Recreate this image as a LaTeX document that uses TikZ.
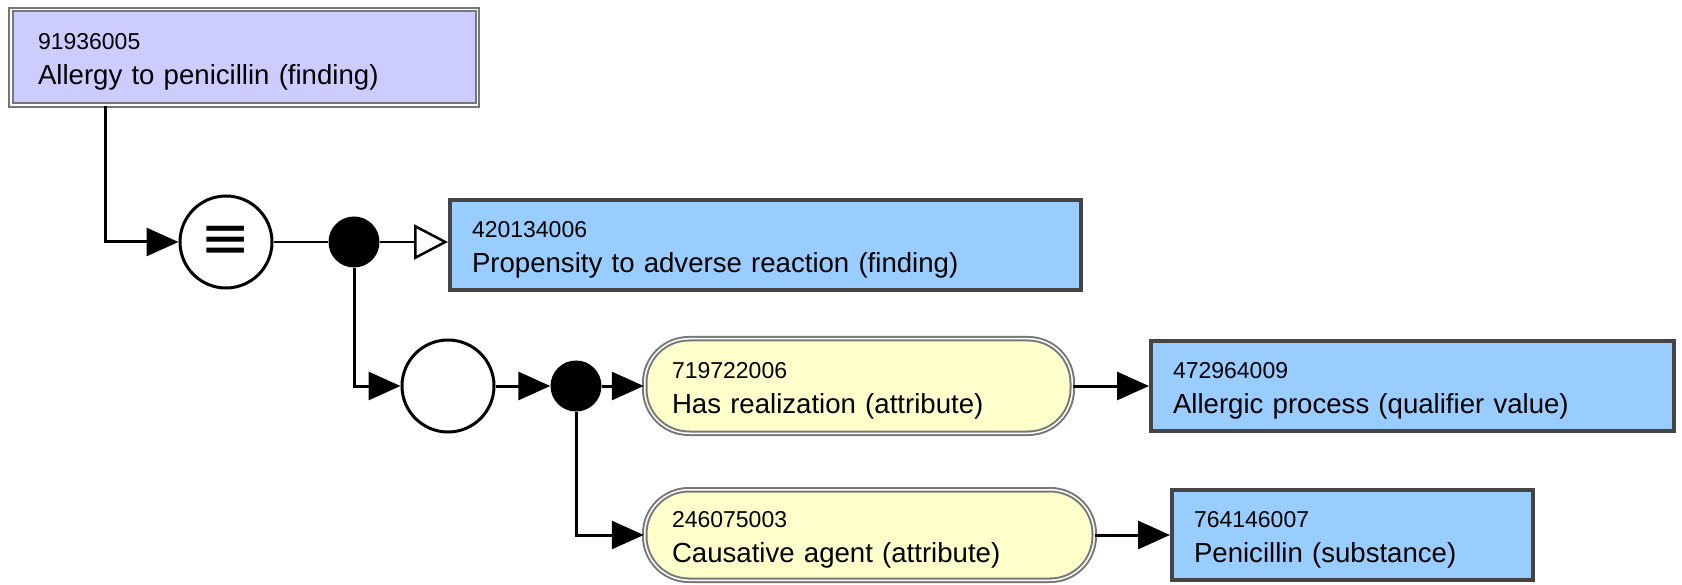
\documentclass[tikz,border=0pt]{standalone}
\usepackage{fontspec}
\setmainfont{Liberation Sans}
\newfontfamily\symfont{DejaVu Sans}
\usepackage{xcolor}
\usetikzlibrary{shapes,arrows.meta,positioning}

\definecolor{defblue}{HTML}{CCCCFF}
\definecolor{primblue}{HTML}{99CCFF}
\definecolor{attryellow}{HTML}{FFFFCC}
\definecolor{darkborder}{HTML}{444444}
\definecolor{lightborder}{HTML}{777777}

% concept id on the first line, smaller
\newcommand{\sctid}[1]{{\fontsize{23}{28}\selectfont\rule{0pt}{25pt}#1}}

\begin{document}
\begin{tikzpicture}[x=1pt,y=-1pt,
    every node/.style={font=\fontsize{27.6}{35}\selectfont, align=left},
    defined/.style={rectangle, fill=defblue, draw=lightborder, double=white,
      double distance=1.5pt, line width=2pt, inner xsep=27.25pt, inner ysep=0pt},
    primitive/.style={rectangle, fill=primblue, draw=darkborder, line width=4pt,
      inner xsep=22pt, inner ysep=0pt},
    attribute/.style={rectangle, rounded corners=44pt, fill=attryellow, draw=lightborder,
      double=white, double distance=1.5pt, line width=2pt, inner xsep=27.25pt, inner ysep=0pt},
    group/.style={circle, draw, line width=3pt, fill=white, minimum size=92pt, inner sep=0pt},
    junction/.style={circle, fill=black, minimum size=51pt, inner sep=0pt},
    isa/.style={line width=2.5pt, -{Triangle[open, length=34pt, width=35pt, fill=white]}},
    rel/.style={line width=3pt, -{Triangle[length=32pt, width=28pt]}}]
  \useasboundingbox (0,0) rectangle (1682,585);

  % concepts
  \node[defined, text width=412pt, minimum height=95.5pt] (allergy) at (244,57.5)
    {\sctid{91936005}\\Allergy to penicillin (finding)};
  \node[primitive, text width=587pt, minimum height=90pt] (propensity) at (765.5,245)
    {\sctid{420134006}\\Propensity to adverse reaction (finding)};
  \node[attribute, text width=373pt, minimum height=94.5pt] (realization) at (858.5,386)
    {\sctid{719722006}\\Has realization (attribute)};
  \node[attribute, text width=395pt, minimum height=90.5pt] (agent) at (869.5,535)
    {\sctid{246075003}\\Causative agent (attribute)};
  \node[primitive, text width=479pt, minimum height=89pt] (process) at (1412.5,386)
    {\sctid{472964009}\\Allergic process (qualifier value)};
  \node[primitive, text width=317pt, minimum height=90pt] (penicillin) at (1352.5,535)
    {\sctid{764146007}\\Penicillin (substance)};

  % definition status, groups and junctions
  \node[group, font=\symfont\fontsize{60}{60}\selectfont] (equiv) at (226,242) {≡};
  \node[junction] (conj) at (354,242) {};
  \node[group] (rolegroup) at (448,386) {};
  \node[junction] (roles) at (576,386) {};

  % connectors
  \draw[rel] ([xshift=96pt]allergy.south west) |- (equiv.west);
  \draw[line width=2pt] (equiv.east) -- (conj.west);
  \draw[isa] (conj.east) -- (propensity.west |- conj.east);
  \draw[rel] (conj.south) |- (rolegroup.west);
  \draw[rel] (rolegroup.east) -- (roles.west);
  \draw[rel] (roles.east) -- (realization.west);
  \draw[rel] (roles.south) |- (agent.west);
  \draw[rel] (realization.east) -- (process.west);
  \draw[rel] (agent.east) -- (penicillin.west);
\end{tikzpicture}
\end{document}
